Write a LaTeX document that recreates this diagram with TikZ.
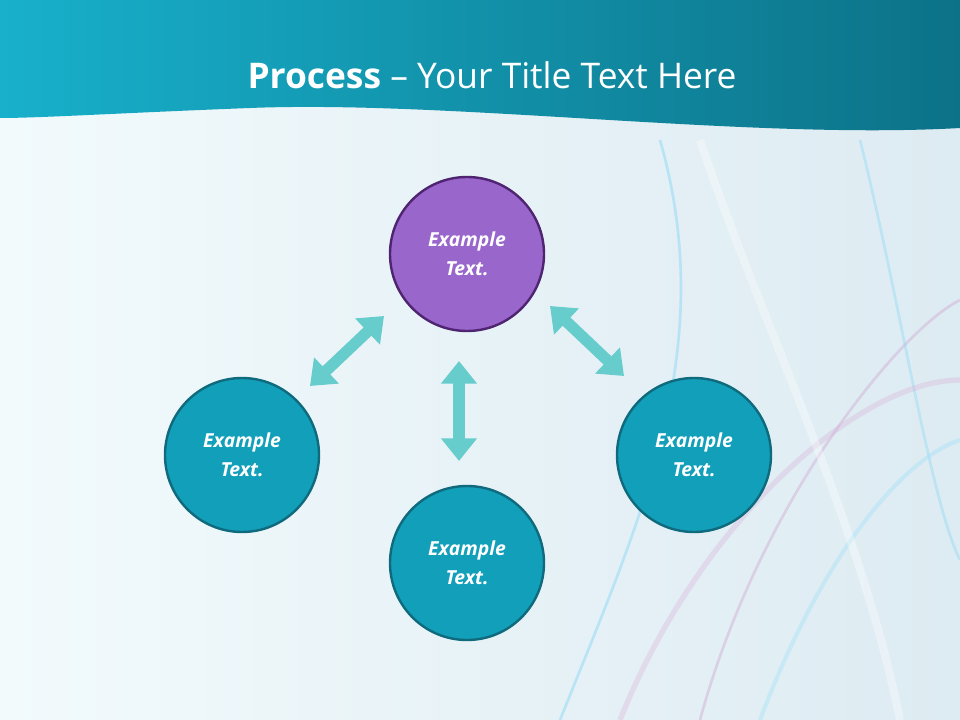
\documentclass[tikz,border=0pt]{standalone}
\usepackage{fontspec}
\setmainfont{Open Sans}
\usetikzlibrary{arrows.meta}
\definecolor{teal1}{HTML}{18B0CB}
\definecolor{teal2}{HTML}{0C7288}
\definecolor{cfill}{HTML}{129FB9}
\definecolor{cline}{HTML}{0E6A7C}
\definecolor{pfill}{HTML}{9966CC}
\definecolor{pline}{HTML}{4F2470}
\definecolor{arr}{HTML}{66CCCC}
\definecolor{bgl}{HTML}{F2FAFC}
\definecolor{bgr}{HTML}{DDEBF2}
\begin{document}
\begin{tikzpicture}[x=0.75pt,y=-0.75pt,
 circ/.style={circle,minimum size=154*0.75pt,line width=1.8pt,draw=cline,fill=cfill,text=white,align=center,font=\fontsize{14.5}{22}\selectfont\bfseries\itshape,inner sep=0pt},
 dblarrow/.style={arr,line width=8.5pt,{Triangle[length=17pt,width=26pt]}-{Triangle[length=17pt,width=26pt]}}]
\useasboundingbox (0,0) rectangle (960,720);
\shade[left color=bgl,right color=bgr] (0,0) rectangle (960,720);
% decorative curves
\begin{scope}[line width=2pt,opacity=0.35]
\draw[cyan!60] (660,140) .. controls (720,350) and (640,520) .. (560,720);
\draw[violet!40] (700,720) .. controls (760,500) and (900,330) .. (960,300);
\draw[cyan!50] (860,140) .. controls (900,300) and (930,500) .. (960,560);
\draw[violet!30,line width=4pt] (620,720) .. controls (700,520) and (860,380) .. (960,380);
\draw[cyan!40,line width=3pt] (760,720) .. controls (820,560) and (900,460) .. (960,440);
\draw[white,line width=6pt] (700,140) .. controls (760,320) and (860,520) .. (900,720);
\end{scope}
% header
\shade[left color=teal1,right color=teal2] (0,0) -- (960,0) -- (960,128) .. controls (750,140) and (450,100) .. (250,108) .. controls (120,113) and (40,118) .. (0,118) -- cycle;
\node[text=white,font=\fontsize{26.5}{32}\selectfont] (title) at (492,75) {\textbf{Process} – Your Title Text Here};
% circles
\node[circ,draw=pline,fill=pfill] (top) at (467,254) {Example\\Text.};
\node[circ] (left) at (242,455) {Example\\Text.};
\node[circ] (bot) at (467,563) {Example\\Text.};
\node[circ] (right) at (694,455) {Example\\Text.};
\coordinate (a1) at (310,386); \coordinate (a2) at (384,316);
\coordinate (b1) at (459,361); \coordinate (b2) at (459,461);
\coordinate (c1) at (550,306); \coordinate (c2) at (624,376);
\draw[dblarrow] (a1) -- (a2);
\draw[dblarrow] (b1) -- (b2);
\draw[dblarrow] (c1) -- (c2);
\end{tikzpicture}
\end{document}
